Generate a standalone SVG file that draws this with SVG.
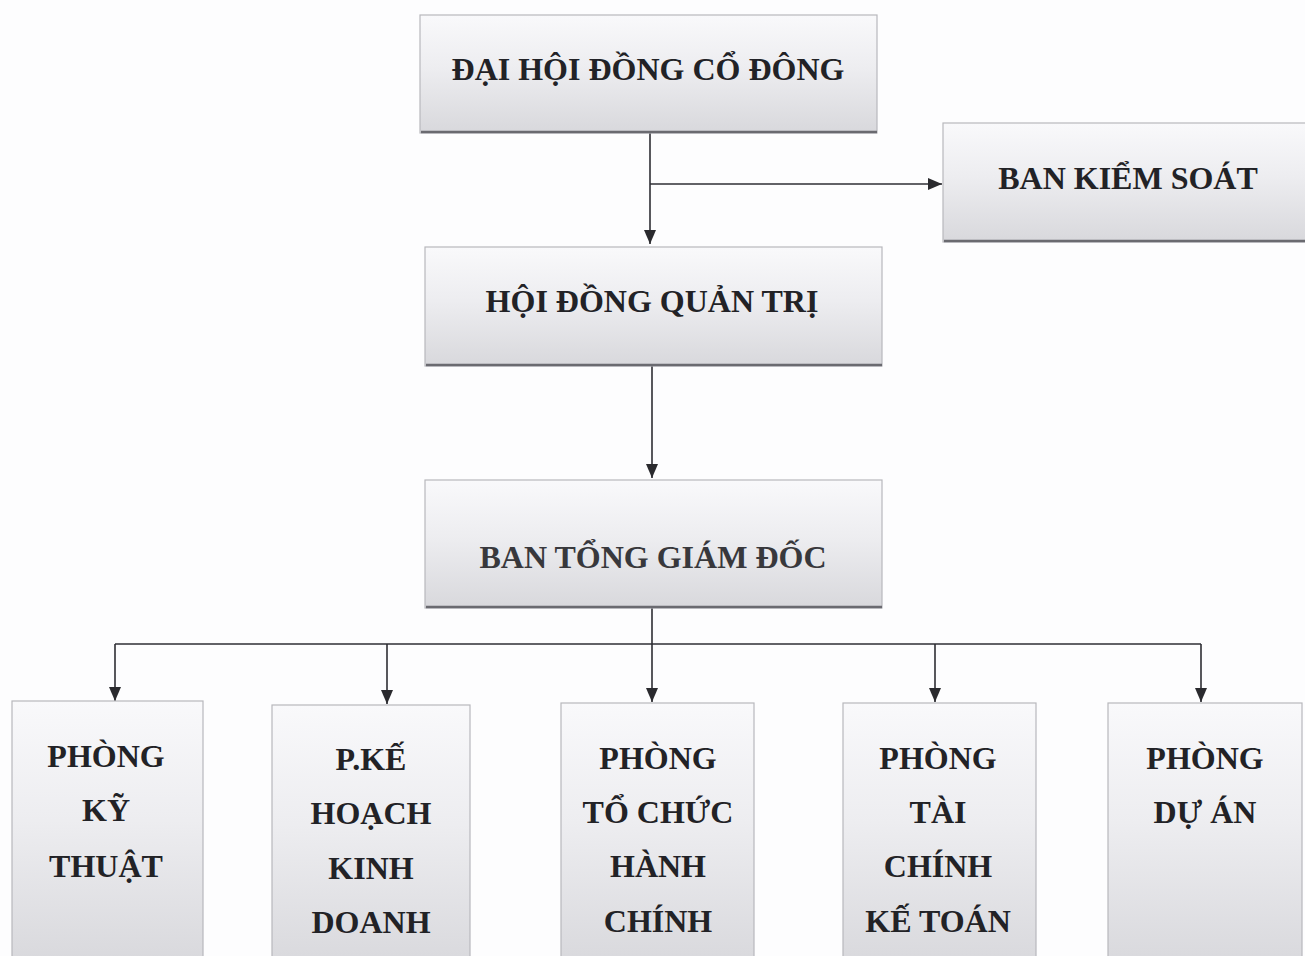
<svg xmlns="http://www.w3.org/2000/svg" width="1305" height="956" viewBox="0 0 1305 956">
<defs>
<linearGradient id="g" x1="0" y1="0" x2="0" y2="1">
<stop offset="0" stop-color="#f9f9fb"/>
<stop offset="0.45" stop-color="#ededf0"/>
<stop offset="1" stop-color="#d8d8dc"/>
</linearGradient>
<marker id="arr" markerUnits="userSpaceOnUse" markerWidth="15" markerHeight="12" refX="14" refY="6" orient="auto">
<path d="M0,0 L14,6 L0,12 z" fill="#2a2a2e"/>
</marker>
<style>
.box{fill:url(#g);stroke:#b8b8bc;stroke-width:1.2}
.sh{stroke:#6a6a70;stroke-width:2.5}
.t{font-family:"Liberation Serif","Times New Roman",serif;font-weight:bold;font-size:32px;fill:#222226;text-anchor:middle}
.c{stroke:#2e2e34;stroke-width:1.6;fill:none}
</style>
</defs>
<rect width="1305" height="956" fill="#fdfdfe"/>
<g id="connectors">
<path class="c" d="M650,133 V244" marker-end="url(#arr)"/>
<path class="c" d="M650,184 H942" marker-end="url(#arr)"/>
<path class="c" d="M652,366 V478" marker-end="url(#arr)"/>
<path class="c" d="M652,608 V702" marker-end="url(#arr)"/>
<path class="c" d="M115,644 H1201"/>
<path class="c" d="M115,644 V701" marker-end="url(#arr)"/>
<path class="c" d="M387,644 V704" marker-end="url(#arr)"/>
<path class="c" d="M935,644 V702" marker-end="url(#arr)"/>
<path class="c" d="M1201,644 V702" marker-end="url(#arr)"/>
</g>
<g id="dhdcd">
<rect class="box" x="420" y="15" width="457" height="118"/>
<line class="sh" x1="421" y1="132" x2="877" y2="132"/>
<text class="t" x="648" y="80">ĐẠI HỘI ĐỒNG CỔ ĐÔNG</text>
</g>
<g id="bks">
<rect class="box" x="943" y="123" width="370" height="119"/>
<line class="sh" x1="944" y1="241" x2="1305" y2="241"/>
<text class="t" x="1128" y="189">BAN KIỂM SOÁT</text>
</g>
<g id="hdqt">
<rect class="box" x="425" y="247" width="457" height="119"/>
<line class="sh" x1="426" y1="365" x2="882" y2="365"/>
<text class="t" x="652" y="312">HỘI ĐỒNG QUẢN TRỊ</text>
</g>
<g id="btgd">
<rect class="box" x="425" y="480" width="457" height="128"/>
<line class="sh" x1="426" y1="607" x2="882" y2="607"/>
<text class="t" x="653" y="568" style="fill:#38383c">BAN TỔNG GIÁM ĐỐC</text>
</g>
<g id="pkt">
<rect class="box" x="12" y="701" width="191" height="265"/>
<text class="t" x="106" y="767">PHÒNG</text>
<text class="t" x="106" y="821">KỸ</text>
<text class="t" x="106" y="877">THUẬT</text>
</g>
<g id="pkhkd">
<rect class="box" x="272" y="705" width="198" height="265"/>
<text class="t" x="371" y="770">P.KẾ</text>
<text class="t" x="371" y="824">HOẠCH</text>
<text class="t" x="371" y="879">KINH</text>
<text class="t" x="371" y="933">DOANH</text>
</g>
<g id="ptchc">
<rect class="box" x="561" y="703" width="193" height="265"/>
<text class="t" x="658" y="769">PHÒNG</text>
<text class="t" x="658" y="823">TỔ CHỨC</text>
<text class="t" x="658" y="877">HÀNH</text>
<text class="t" x="658" y="932">CHÍNH</text>
</g>
<g id="ptckt">
<rect class="box" x="843" y="703" width="193" height="265"/>
<text class="t" x="938" y="769">PHÒNG</text>
<text class="t" x="938" y="823">TÀI</text>
<text class="t" x="938" y="877">CHÍNH</text>
<text class="t" x="938" y="932">KẾ TOÁN</text>
</g>
<g id="pda">
<rect class="box" x="1108" y="703" width="194" height="265"/>
<text class="t" x="1205" y="769">PHÒNG</text>
<text class="t" x="1205" y="823">DỰ ÁN</text>
</g>
</svg>
